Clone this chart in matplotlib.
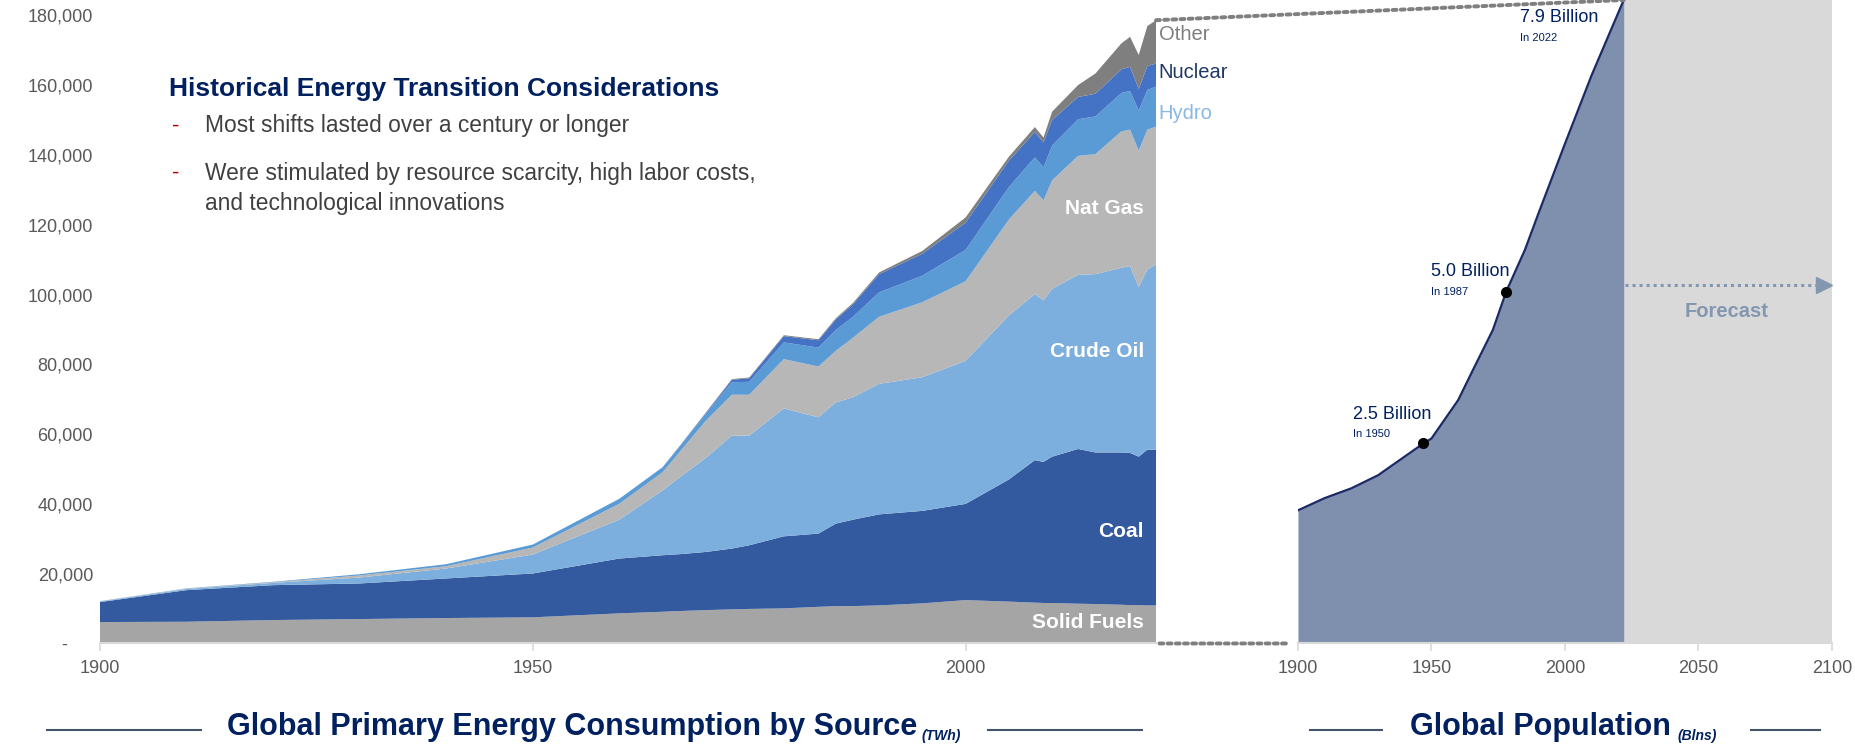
import matplotlib
matplotlib.use("Agg")
import matplotlib.pyplot as plt
from matplotlib.patches import ConnectionPatch
from matplotlib.ticker import FuncFormatter

plt.rcParams['font.family'] = ['Liberation Sans', 'DejaVu Sans']

# --- energy consumption by source (TWh) ---
years = [1900, 1910, 1920, 1930, 1940, 1950, 1960, 1965, 1967, 1970, 1973, 1975,
         1979, 1983, 1985, 1987, 1990, 1995, 2000, 2005, 2008, 2009, 2010, 2013,
         2015, 2018, 2019, 2020, 2021, 2022]
solid_fuels = [6140, 6230, 6710, 7000, 7290, 7490, 8630, 9090, 9300, 9570, 9770, 9900,
               10060, 10500, 10700, 10710, 10910, 11500, 12430, 12000, 11700, 11600, 11600, 11400,
               11300, 11100, 11000, 11000, 10900, 10910]
coal = [5720, 9050, 10000, 10200, 11340, 12570, 15710, 16200, 16300, 16660, 17430, 18240,
        20650, 20990, 23640, 24770, 26090, 26500, 27570, 35000, 40840, 40430, 41940, 44340,
        43440, 43640, 43600, 42540, 44640, 44630]
crude_oil = [180, 330, 650, 1700, 2860, 5430, 11140, 18570, 22060, 26970, 32370, 31430,
             36660, 33310, 34740, 35090, 37400, 38300, 41000, 47000, 47600, 46310, 48100, 49910,
             51110, 52920, 53570, 48600, 51630, 53110]
nat_gas = [60, 110, 200, 600, 660, 2000, 4570, 5230, 7340, 10660, 11720, 11720,
           14120, 14570, 14770, 17070, 19230, 21500, 22800, 27500, 29570, 28660, 31100, 34090,
           34400, 39110, 39090, 39120, 40090, 39490]
hydro = [40, 80, 120, 350, 570, 860, 1430, 1400, 1500, 2000, 3600, 3700,
         4800, 5430, 6000, 6000, 7000, 7600, 9000, 9300, 9600, 9500, 10000, 10500,
         10800, 11000, 11100, 11500, 11400, 11430]
nuclear = [0, 0, 0, 0, 0, 0, 0, 50, 150, 250, 700, 1000,
           1800, 2100, 3000, 3600, 5200, 6300, 7800, 7600, 7300, 7100, 7300, 6400,
           6500, 6800, 6900, 6200, 6800, 6660]
other = [0, 0, 0, 0, 0, 0, 0, 0, 60, 120, 180, 240,
         260, 300, 340, 400, 500, 800, 1500, 1100, 1390, 1400, 2390, 3410,
         5810, 7430, 8600, 9700, 11500, 12400]

# --- global population (billions) ---
pop_years = [1900, 1910, 1920, 1930, 1947, 1950, 1960, 1966, 1973, 1978, 1985, 1990, 2000, 2010, 2022]
population = [1.63, 1.78, 1.90, 2.06, 2.45, 2.51, 2.98, 3.38, 3.84, 4.31, 4.82, 5.26, 6.12, 6.96, 7.88]

# annotated points: (year, value, big label, small label)
pop_notes = [(1947, 2.45, "2.5 Billion", "In 1950"),
             (1978, 4.31, "5.0 Billion", "In 1987")]

layer_colors = ['#a5a5a5', '#33599e', '#7cafdd', '#b7b7b7', '#5b9bd5', '#4472c4', '#7f7f7f']
navy = '#002060'
tick_grey = '#595959'
axis_grey = '#d9d9d9'

fig = plt.figure(figsize=(18.55, 7.49), dpi=100)

# ---------------- left: stacked area ----------------
ax1 = fig.add_axes([0.0539, 0.1409, 0.5693, 0.8385])
ax1.stackplot(years, solid_fuels, coal, crude_oil, nat_gas, hydro, nuclear, other,
              colors=layer_colors, linewidth=0)
ax1.set_xlim(1900, 2022)
ax1.set_ylim(0, 180000)
ax1.set_xticks([1900, 1950, 2000])
ax1.set_yticks(range(0, 180001, 20000))
ax1.yaxis.set_major_formatter(FuncFormatter(lambda v, p: '-     ' if v == 0 else f'{int(v):,}'))
for s in ['top', 'right', 'left']:
    ax1.spines[s].set_visible(False)
ax1.spines['bottom'].set_color(axis_grey)
ax1.spines['bottom'].set_linewidth(1.5)
ax1.tick_params(axis='y', length=0, pad=5, labelsize=13, labelcolor=tick_grey)
ax1.tick_params(axis='x', length=6, color=axis_grey, width=1.2, pad=6,
                labelsize=13, labelcolor=tick_grey)

# labels inside the layers
inner = dict(color='white', fontsize=15, fontweight='bold', ha='right', va='center')
ax1.text(2020.6, 124700, "Nat Gas", **inner)
ax1.text(2020.6, 83600, "Crude Oil", **inner)
ax1.text(2020.6, 32100, "Coal", **inner)
ax1.text(2020.6, 5900, "Solid Fuels", **inner)
side = dict(fontsize=14.5, ha='left', va='center', clip_on=False)
ax1.text(2022.3, 174400, "Other", color='#7f7f7f', **side)
ax1.text(2022.3, 163600, "Nuclear", color='#203864', **side)
ax1.text(2022.3, 151900, "Hydro", color='#8ab8e6', **side)

# text box
fig.text(0.0911, 0.881, "Historical Energy Transition Considerations", color=navy,
         fontsize=19, fontweight='bold', va='center')
body = '#404040'
fig.text(0.0925, 0.832, "-", color='#c00000', fontsize=16, va='center')
fig.text(0.1105, 0.832, "Most shifts lasted over a century or longer", color=body,
         fontsize=16.4, va='center')
fig.text(0.0925, 0.769, "-", color='#c00000', fontsize=16, va='center')
fig.text(0.1105, 0.769, "Were stimulated by resource scarcity, high labor costs,", color=body,
         fontsize=16.4, va='center')
fig.text(0.1105, 0.728, "and technological innovations", color=body,
         fontsize=16.4, va='center')

# ---------------- right: population ----------------
ax2 = fig.add_axes([0.6997, 0.1409, 0.2879, 0.8591])
ax2.axvspan(2022, 2100, color=axis_grey, lw=0)
ax2.fill_between(pop_years, population, color='#7f8fae', lw=0)
ax2.plot(pop_years, population, color='#1b2a66', lw=1.6)
ax2.set_xlim(1900, 2100)
ax2.set_ylim(0, 7.88)
ax2.set_xticks([1900, 1950, 2000, 2050, 2100])
ax2.set_yticks([])
for s in ['top', 'right', 'left']:
    ax2.spines[s].set_visible(False)
ax2.spines['bottom'].set_color(axis_grey)
ax2.spines['bottom'].set_linewidth(1.5)
ax2.tick_params(axis='x', length=6, color=axis_grey, width=1.2, pad=6,
                labelsize=13, labelcolor=tick_grey)

for yr, val, big, small in pop_notes:
    ax2.plot(yr, val, 'o', color='black', ms=7, zorder=5)
ax2.text(1920.6, 2.81, pop_notes[0][2], color=navy, fontsize=13, va='center')
ax2.text(1920.6, 2.57, pop_notes[0][3], color=navy, fontsize=8, va='center')
ax2.text(1949.8, 4.56, pop_notes[1][2], color=navy, fontsize=13, va='center')
ax2.text(1949.8, 4.30, pop_notes[1][3], color=navy, fontsize=8, va='center')
ax2.text(1983.1, 7.66, "7.9 Billion", color=navy, fontsize=13, va='center')
ax2.text(1983.1, 7.42, "In 2022", color=navy, fontsize=8, va='center')

# forecast arrow
ax2.plot([2022.5, 2096], [4.39, 4.39], linestyle=(0, (1, 1.3)), color='#8497b0', lw=2.2)
ax2.plot(2097, 4.39, marker='>', color='#8497b0', ms=11)
ax2.text(2060.7, 4.07, "Forecast", color='#8497b0', fontsize=14.5, fontweight='bold',
         ha='center', va='center')

# dotted connectors between the two charts
dots = dict(color='#7f7f7f', lw=2.8, linestyle=(0, (1, 1.1)))
total_2022 = sum(s[-1] for s in [solid_fuels, coal, crude_oil, nat_gas, hydro, nuclear, other])
top_link = ConnectionPatch(xyA=(2022, total_2022), coordsA=ax1.transData,
                           xyB=(pop_years[-1], population[-1]), coordsB=ax2.transData, **dots)
fig.add_artist(top_link)
bottom_link = ConnectionPatch(xyA=(2022.4, 0), coordsA=ax1.transData,
                              xyB=(1897, 0), coordsB=ax2.transData, **dots)
fig.add_artist(bottom_link)

# bottom titles with side rules
rule = '#44546a'
fig.add_artist(plt.Line2D([47 / 1855, 201 / 1855], [0.025, 0.025], color=rule, lw=1.5))
fig.add_artist(plt.Line2D([988 / 1855, 1142 / 1855], [0.025, 0.025], color=rule, lw=1.5))
fig.text(917 / 1855, 0.03, "Global Primary Energy Consumption by Source", color=navy,
         fontsize=22, fontweight='bold', ha='right', va='center')
fig.text(922 / 1855, 0.018, "(TWh)", color=navy, fontsize=10, fontweight='bold',
         style='italic', ha='left', va='center')
fig.add_artist(plt.Line2D([1310 / 1855, 1382 / 1855], [0.025, 0.025], color=rule, lw=1.5))
fig.add_artist(plt.Line2D([1751 / 1855, 1820 / 1855], [0.025, 0.025], color=rule, lw=1.5))
fig.text(1671 / 1855, 0.03, "Global Population", color=navy,
         fontsize=22, fontweight='bold', ha='right', va='center')
fig.text(1677 / 1855, 0.018, "(Blns)", color=navy, fontsize=10, fontweight='bold',
         style='italic', ha='left', va='center')

fig.savefig("out.png", dpi=100)
